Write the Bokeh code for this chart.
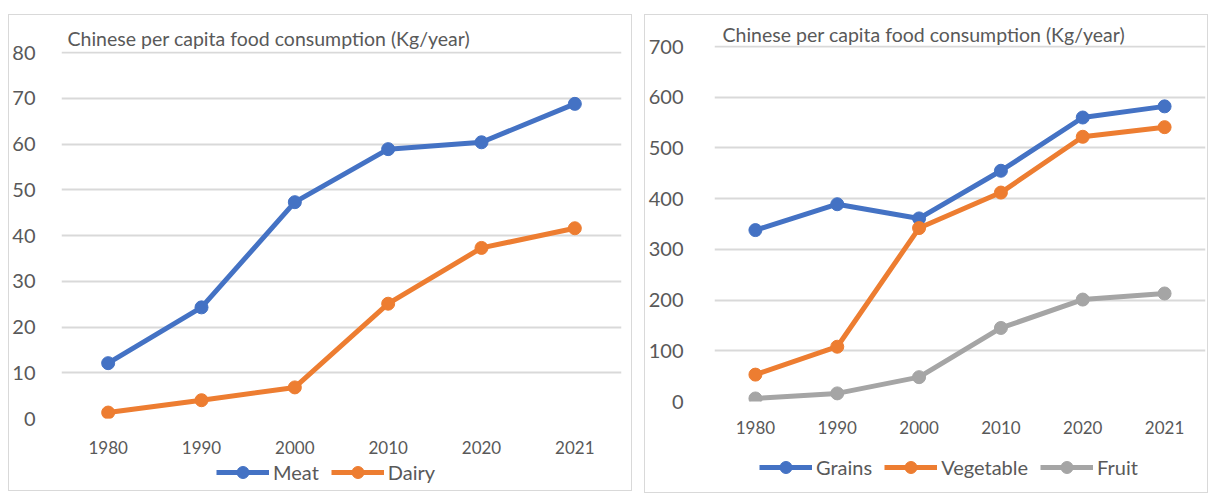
from bokeh.plotting import figure
from bokeh.models import Range1d, Legend, LegendItem, Title
from bokeh.layouts import row, column
from bokeh.embed import file_html
from bokeh.resources import INLINE

# ---- data ----
years = ["1980", "1990", "2000", "2010", "2020", "2021"]
meat = [12.1, 24.3, 47.3, 58.9, 60.4, 68.8]
dairy = [1.3, 4.0, 6.8, 25.1, 37.3, 41.6]
grains = [338, 389, 361, 455, 560, 582]
vegetable = [53, 108, 342, 412, 522, 541]
fruit = [6, 16, 48, 145, 201, 213]
left_ticks = [0, 10, 20, 30, 40, 50, 60, 70, 80]
right_ticks = [0, 100, 200, 300, 400, 500, 600, 700]
left_title = "Chinese per capita food consumption  (Kg/year)"
right_title = "Chinese per capita food consumption (Kg/year)"

BLUE = "#4472C4"
ORANGE = "#ED7D31"
GRAY = "#A5A5A5"
TXT = "#595959"
GRID = "#D9D9D9"
FONT = "Lato"


def make(width, height, ymax, yend, ticks, series, title, mb_left, mb_right, mb_top, mb_bottom,
         ystand, xstand, title_off, title_standoff, leg_h, leg_loc):
    p = figure(x_range=years, y_range=Range1d(0, yend), width=width, height=height,
               output_backend="svg", toolbar_location=None,
               min_border_left=mb_left, min_border_right=mb_right,
               min_border_top=mb_top, min_border_bottom=mb_bottom)
    p.title = Title(text=title, align="left", offset=title_off, standoff=title_standoff,
                    text_font=FONT, text_font_size="19.5px", text_font_style="normal",
                    text_color=TXT)
    p.outline_line_color = None
    p.xgrid.grid_line_color = None
    p.ygrid.grid_line_color = GRID
    p.ygrid.grid_line_width = 2
    p.yaxis.ticker = ticks
    for ax in (p.xaxis[0], p.yaxis[0]):
        ax.axis_line_color = None
        ax.major_tick_line_color = None
        ax.minor_tick_line_color = None
        ax.major_label_text_color = TXT
        ax.major_label_text_font = FONT
    p.yaxis.major_label_text_font_size = "20px"
    p.xaxis.major_label_text_font_size = "17px"
    p.yaxis.major_label_standoff = ystand
    p.xaxis.major_label_standoff = xstand

    for name, vals, color in series:
        p.line(years, vals, line_color=color, line_width=5)
        p.scatter(years, vals, size=13, fill_color=color, line_color=color)

    # legend strip below the chart: same series, drawn outside its visible y window
    lg = figure(width=width, height=leg_h, x_range=p.x_range, y_range=Range1d(-2 * ymax, -ymax),
                output_backend="svg", toolbar_location=None, min_border=0,
                x_axis_location=None, y_axis_location=None)
    lg.grid.grid_line_color = None
    lg.outline_line_color = None
    items = []
    for name, vals, color in series:
        l = lg.line(years, vals, line_color=color, line_width=5)
        s = lg.scatter(years, vals, size=13, fill_color=color, line_color=color)
        items.append(LegendItem(label=name, renderers=[l, s]))
    leg = Legend(items=items, orientation="horizontal", location=leg_loc,
                 border_line_color=None, background_fill_alpha=0,
                 glyph_width=53, glyph_height=30, label_standoff=4, spacing=12,
                 padding=0, margin=0,
                 label_text_font=FONT, label_text_font_size="20px",
                 label_text_color=TXT)
    lg.add_layout(leg, "center")
    return p, lg


p1, l1 = make(622, 444, 80, 80.25, left_ticks,
              [("Meat", meat, BLUE), ("Dairy", dairy, ORANGE)],
              left_title, 51, 10, 36, 41, 20, 16, 6, 3, 31, (155, 3))
p2, l2 = make(562, 426, 700, 702, right_ticks,
              [("Grains", grains, BLUE), ("Vegetable", vegetable, ORANGE), ("Fruit", fruit, GRAY)],
              right_title, 62, 2, 30, 40, 25, 13, 8, 0, 51, (45, 10))

box1 = column(p1, l1, margin=(14, 0, 0, 8), styles={"border": "1px solid #D9D9D9"})
box2 = column(p2, l2, margin=(14, 0, 0, 12), styles={"border": "1px solid #D9D9D9"})

layout = row(box1, box2)
open("out.html", "w").write(file_html(layout, INLINE))
